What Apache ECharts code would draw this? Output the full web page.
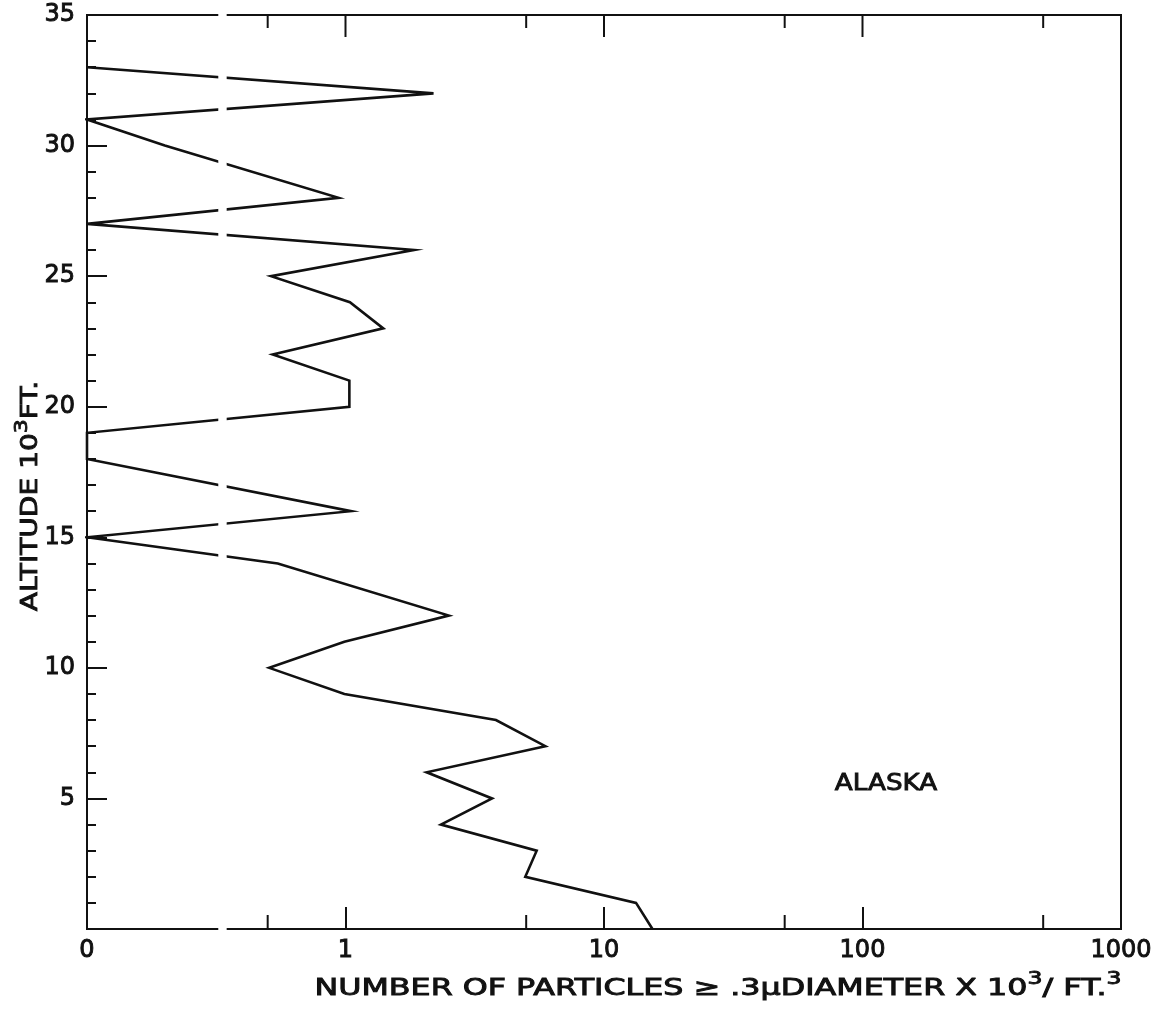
<!DOCTYPE html>
<html>
<head>
<meta charset="utf-8">
<script src="https://cdn.jsdelivr.net/npm/echarts@6/dist/echarts.min.js"></script>
<style>
  html, body { margin: 0; padding: 0; background: #ffffff; }
  #chart { width: 1174px; height: 1011px; }
</style>
</head>
<body>
<div id="chart"></div>
<script>
// Sounding levels, altitude in 10^3 ft
const altitudes = [0, 1, 2, 3, 4, 5, 6, 7, 8, 9, 10, 11, 12, 14, 15, 16, 18, 19, 20, 21, 22, 23, 24, 25, 26, 27, 28, 30, 31, 32, 33];
// Particles >= .3 micron diameter, 10^3 per ft^3 (0 = none counted)
const particleCounts = [15.4, 13.3, 4.96, 5.49, 2.34, 3.69, 2.06, 5.93, 3.82, 0.99, 0.507, 0.99, 2.51, 0.547, 0, 1.05, 0, 0, 1.035, 1.035, 0.523, 1.40, 1.04, 0.515, 1.84, 0, 0.94, 0.2, 0, 2.19, 0];

// Log axis: its floor (0.1) is where a zero count sits and is labelled "0"
const xFloor = 0.1;
const xCeil = 1000;
const xMajorLabels = { '0.1': '0', '1': '1', '10': '10', '100': '100', '1000': '1000' };
const xMajorTicks = [1, 10, 100];
const xMinorTicks = [0.5, 5, 50, 500];
const yMin = 0, yMax = 35, yStep = 5;

// Narrow blank strip across the plot (range on the count axis)
const stripFrom = 0.322, stripTo = 0.347;

const FONT = 'DejaVu Sans';
const INK = '#111111';
// lettering weight: regular face with a thin outline in the same ink
const EDGE_W = 0.9;
const LABEL_EDGE = { textBorderColor: INK, textBorderWidth: EDGE_W };

const lineData = altitudes.map((a, i) => [particleCounts[i] === 0 ? xFloor : particleCounts[i], a]);
// [value, isMajor]
const frameTickData = xMinorTicks.map(v => [v, 0]).concat(xMajorTicks.map(v => [v, 1]));

const chart = echarts.init(document.getElementById('chart'), null, { renderer: 'canvas' });

// zrender text style for graphic elements (stroke = glyph outline)
const textStyle = (size, extra) => Object.assign(
  { fontFamily: FONT, fontSize: size, fill: INK, stroke: INK, lineWidth: EDGE_W }, extra || {});

const option = {
  animation: false,
  backgroundColor: '#ffffff',
  grid: {
    left: 87, right: 53, top: 15, bottom: 82,
    show: true, borderColor: INK, borderWidth: 2, backgroundColor: 'transparent'
  },
  xAxis: {
    type: 'log',
    logBase: 10,
    min: xFloor,
    max: xCeil,
    position: 'bottom',
    splitLine: { show: false },
    axisLine: { show: true, lineStyle: { color: INK, width: 2 } },
    axisTick: { show: true, inside: true, length: 22, lineStyle: { color: INK, width: 2 } },
    axisLabel: Object.assign({
      show: true, margin: 10, color: INK, fontFamily: FONT, fontSize: 24,
      formatter: v => {
        const key = String(Number(v.toPrecision(6)));
        return xMajorLabels[key] !== undefined ? xMajorLabels[key] : '';
      }
    }, LABEL_EDGE)
  },
  yAxis: {
    type: 'value', min: yMin, max: yMax, interval: yStep, position: 'left',
    splitLine: { show: false },
    axisLine: { show: true, lineStyle: { color: INK, width: 2 } },
    axisTick: { show: true, inside: true, length: 20, lineStyle: { color: INK, width: 2 } },
    minorTick: { show: true, splitNumber: 5, length: 9, lineStyle: { color: INK, width: 2 } },
    axisLabel: Object.assign({
      margin: 12, color: INK, fontFamily: FONT, fontSize: 24,
      formatter: v => (v === yMin ? '' : String(v))
    }, LABEL_EDGE)
  },
  series: [
    {
      name: 'Alaska',
      type: 'line',
      data: lineData,
      symbol: 'none',
      smooth: false,
      lineStyle: { color: INK, width: 2.6, join: 'miter' },
      z: 5
    },
    {
      // 5x ticks on the bottom edge; all decade and 5x ticks along the top edge
      type: 'custom',
      data: frameTickData,
      silent: true,
      renderItem: (params, api) => {
        const v = api.value(0);
        const major = api.value(1) === 1;
        const bottom = api.coord([v, yMin]);
        const top = api.coord([v, yMax]);
        const style = { stroke: INK, lineWidth: 2 };
        const children = [];
        if (!major) {
          children.push({ type: 'line', shape: { x1: bottom[0], y1: bottom[1], x2: bottom[0], y2: bottom[1] - 14 }, style });
        }
        const topLen = major ? 22 : 13;
        children.push({ type: 'line', shape: { x1: top[0], y1: top[1], x2: top[0], y2: top[1] + topLen }, style });
        return { type: 'group', children };
      }
    }
  ],
  graphic: [
    {
      id: 'xTitle',
      type: 'text',
      x: 718,
      y: 986,
      scaleX: 1.38,
      style: {
        text: '{a|NUMBER OF PARTICLES ≥ .3μDIAMETER X 10}{s|3}{a|/ FT.}{s|3}',
        align: 'center',
        verticalAlign: 'middle',
        fill: INK,
        rich: {
          a: textStyle(23, { lineHeight: 30, verticalAlign: 'bottom' }),
          s: textStyle(17, { lineHeight: 18, verticalAlign: 'top' })
        }
      }
    },
    {
      id: 'yTitle',
      type: 'text',
      x: 28,
      y: 496,
      rotation: Math.PI / 2,
      scaleX: 1.22,
      style: {
        text: '{a|ALTITUDE 10}{s|3}{a|FT.}',
        align: 'center',
        verticalAlign: 'middle',
        fill: INK,
        rich: {
          a: textStyle(23, { lineHeight: 30, verticalAlign: 'bottom' }),
          s: textStyle(18, { lineHeight: 18, verticalAlign: 'top' })
        }
      }
    },
    {
      id: 'region',
      type: 'text',
      x: 886,
      y: 784,
      scaleX: 1.14,
      style: Object.assign({
        text: 'ALASKA',
        align: 'center',
        verticalAlign: 'middle'
      }, textStyle(23))
    }
  ]
};

chart.setOption(option);

// blank strip placed on the count axis scale
const p0 = chart.convertToPixel({ gridIndex: 0 }, [stripFrom, yMax]);
const p1 = chart.convertToPixel({ gridIndex: 0 }, [stripTo, yMin]);
chart.setOption({
  graphic: [{
    id: 'strip',
    type: 'rect',
    z: 100,
    silent: true,
    shape: { x: p0[0], y: p0[1] - 4, width: p1[0] - p0[0], height: p1[1] - p0[1] + 8 },
    style: { fill: '#ffffff' }
  }]
});
</script>
</body>
</html>
